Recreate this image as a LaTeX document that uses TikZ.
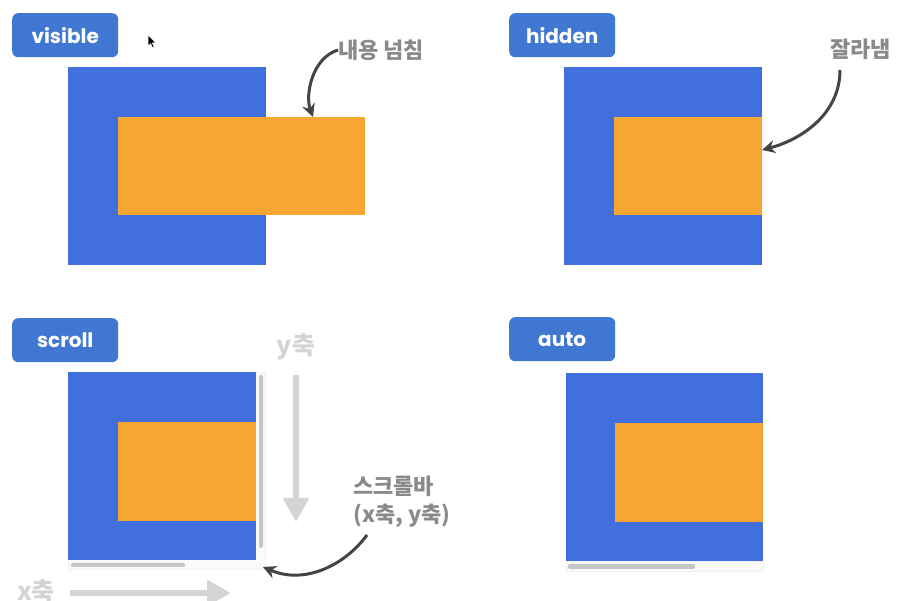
\documentclass[tikz,border=0pt]{standalone}
\usepackage{fontspec}
\usetikzlibrary{arrows.meta}
\newfontfamily\badgefont{Poppins}
\newfontfamily\krfont{Noto Sans CJK KR}
\definecolor{badgeblue}{RGB}{64,119,210}
\definecolor{boxblue}{RGB}{65,111,222}
\definecolor{boxorange}{RGB}{248,166,51}
\definecolor{labgray}{RGB}{138,138,138}
\definecolor{lightgray2}{RGB}{212,212,212}
\definecolor{thumbgray}{RGB}{198,198,198}
\definecolor{arrowdark}{RGB}{68,68,68}
\tikzset{
  badge/.style={fill=badgeblue, rounded corners=6pt, minimum width=106pt, minimum height=44pt, inner sep=0pt, anchor=north west, text=white, font=\badgefont\bfseries\fontsize{20}{22}\selectfont},
  outerbox/.style={fill=boxblue, inner sep=0pt, outer sep=0pt, anchor=north west, minimum width=198pt, minimum height=198pt},
  innerbox/.style={fill=boxorange, inner sep=0pt, outer sep=0pt, anchor=north west, minimum height=98pt},
  note/.style={text=labgray, font=\krfont\bfseries\fontsize{22}{28}\selectfont, inner sep=0pt, anchor=west, align=left},
  axislab/.style={text=lightgray2, font=\krfont\bfseries\fontsize{25}{26}\selectfont, inner sep=0pt},
  pointer/.style={draw=arrowdark, line width=3pt, -{Stealth[length=13pt,width=13pt]}},
  bigarrow/.style={draw=lightgray2, line width=6pt, -{Triangle[length=24pt,width=25pt]}},
  thumb/.style={fill=thumbgray, rounded corners=2pt, inner sep=0pt, outer sep=0pt, anchor=north west},
  track/.style={fill=black!2, draw=black!5, inner sep=0pt, outer sep=0pt, anchor=north west}
}
\begin{document}
\begin{tikzpicture}[x=1pt,y=-1pt]
\useasboundingbox (0,0) rectangle (898,601);
% ---------- visible ----------
\node[badge] (b1) at (12,13) {visible};
\node[outerbox] (o1) at (68,67) {};
\node[innerbox, minimum width=247pt] (i1) at (118,117) {};
\node[note] (n1) at (338,50) {내용 넘침};
\coordinate (t1) at (313,117);
\draw[pointer] (n1.west) .. controls (312,58) and (305,95) .. (t1);
% cursor
\fill[black, draw=white, line width=0.5pt] (148,35) -- (148,46) -- (150.6,43.6) -- (152.6,47.8) -- (154.2,47) -- (152.3,43) -- (155.8,43) -- cycle;
% ---------- hidden ----------
\node[badge] (b2) at (509,13) {hidden};
\node[outerbox] (o2) at (564,67) {};
\node[innerbox, minimum width=148pt] (i2) at (614,117) {};
\node[note] (n2) at (830,49) {잘라냄};
\coordinate (s2) at (840,70);
\coordinate (t2) at (762,150);
\draw[pointer] (s2) .. controls (840,115) and (800,140) .. (t2);
% ---------- scroll ----------
\node[badge] (b3) at (12,318) {scroll};
\node[track, minimum width=197pt, minimum height=197pt] (tr3) at (68,372) {};
\node[outerbox, minimum width=188pt, minimum height=188pt] (o3) at (68,372) {};
\node[innerbox, minimum width=138pt, minimum height=99pt] (i3) at (118,422) {};
\node[thumb, minimum width=4pt, minimum height=173pt] (v3) at (259,375) {};
\node[thumb, minimum width=114pt, minimum height=4pt] (h3) at (71,563) {};
\node[axislab] (ly) at (296,347) {y축};
\coordinate (ya) at (296,375);
\coordinate (yb) at (296,522);
\draw[bigarrow] (ya) -- (yb);
\node[axislab] (lx) at (36,591) {x축};
\coordinate (xa) at (70,593);
\coordinate (xb) at (231,593);
\draw[bigarrow] (xa) -- (xb);
\node[note] (n3) at (353,502) {스크롤바\\(x축, y축)};
\coordinate (s3) at (367,535);
\coordinate (t3) at (263,567);
\draw[pointer] (s3) .. controls (345,565) and (305,585) .. (t3);
% ---------- auto ----------
\node[badge] (b4) at (509,317) {auto};
\node[track, minimum width=197pt, minimum height=10pt] (tr4) at (566,561) {};
\node[outerbox, minimum width=197pt, minimum height=188pt] (o4) at (566,373) {};
\node[innerbox, minimum width=148pt, minimum height=99pt] (i4) at (615,423) {};
\node[thumb, minimum width=127pt, minimum height=5pt] (h4) at (568,564) {};
\end{tikzpicture}
\end{document}
